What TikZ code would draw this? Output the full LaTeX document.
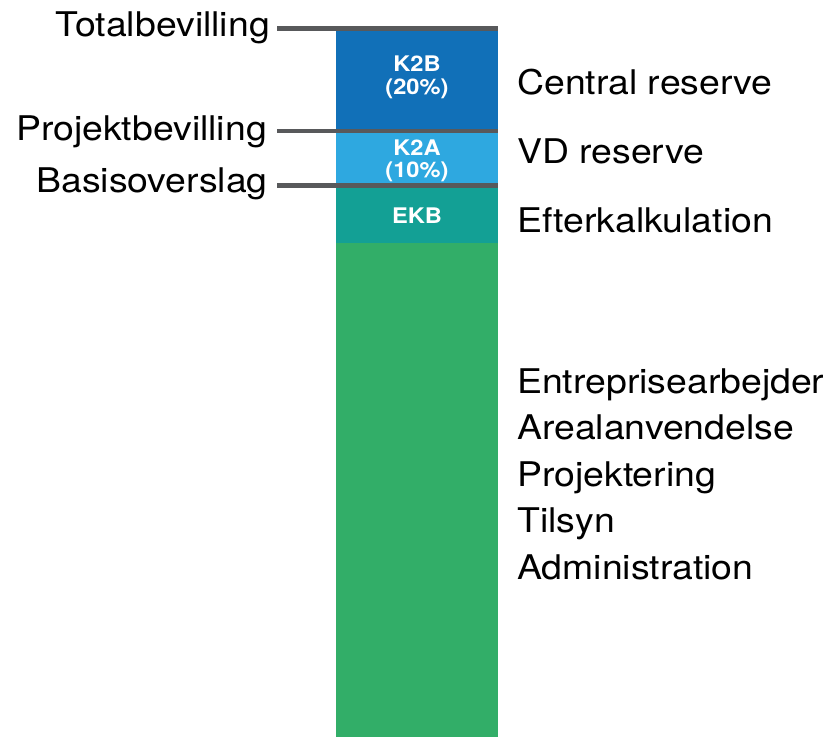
\documentclass[tikz,border=0pt]{standalone}
\usepackage{fontspec}
\setmainfont{TeX Gyre Heros}[FakeStretch=1.1]
\definecolor{kbB}{HTML}{1170B8}
\definecolor{kbA}{HTML}{2EA8E0}
\definecolor{ekb}{HTML}{13A095}
\definecolor{grn}{HTML}{32AE68}
\definecolor{lvl}{HTML}{58595B}
\tikzset{
  lvlline/.style={draw=lvl,line width=4.8pt},
  lab/.style={inner sep=0pt,font=\fontsize{34}{46}\selectfont,text=black},
  inlab/.style={inner sep=0pt,font=\fontsize{21.5}{20}\selectfont\bfseries,text=white,align=center},
}
\begin{document}
\begin{tikzpicture}[x=1pt,y=-1pt]
\useasboundingbox (0,0) rectangle (830,737);
% segments
\fill[kbB] (336,28) rectangle (498,131);
\fill[kbA] (336,131) rectangle (498,186);
\fill[ekb] (336,186) rectangle (498,243);
\fill[grn] (336,243) rectangle (498,737);
\coordinate (barR1) at (498,28.3);
\coordinate (barR2) at (498,131);
\coordinate (barR3) at (498,185.7);
% inner labels
\node[inlab,anchor=base] (k2b1) at (417,71) {K2B};
\node[inlab,anchor=base] (k2b2) at (417,94) {(20\%)};
\node[inlab,anchor=base] (k2a1) at (417,155) {K2A};
\node[inlab,anchor=base] (k2a2) at (417,177) {(10\%)};
\node[inlab,anchor=base] (ekbl) at (417,223) {EKB};
% left labels
\node[lab,anchor=base east] (tot) at (270,36) {Totalbevilling};
\node[lab,anchor=base east] (proj) at (267,140) {Projektbevilling};
\node[lab,anchor=base east] (basis) at (268,192) {Basisoverslag};
% level lines
\coordinate (tot0) at (277,28.3);
\coordinate (proj0) at (277,131);
\coordinate (basis0) at (277,185.7);
\draw[lvlline] (tot0) -- (barR1);
\draw[lvlline] (proj0) -- (barR2);
\draw[lvlline] (basis0) -- (barR3);
% right labels
\node[lab,anchor=base west] (cres) at (517,94) {Central reserve};
\node[lab,anchor=base west] (vdres) at (517,163) {VD reserve};
\node[lab,anchor=base west] (efter) at (517,232) {Efterkalkulation};
\node[lab,anchor=base west] (l1) at (517,393) {Entreprisearbejder};
\node[lab,anchor=base west] (l2) at (517,439.5) {Arealanvendelse};
\node[lab,anchor=base west] (l3) at (517,486) {Projektering};
\node[lab,anchor=base west] (l4) at (517,532.5) {Tilsyn};
\node[lab,anchor=base west] (l5) at (517,579) {Administration};
\end{tikzpicture}
\end{document}
